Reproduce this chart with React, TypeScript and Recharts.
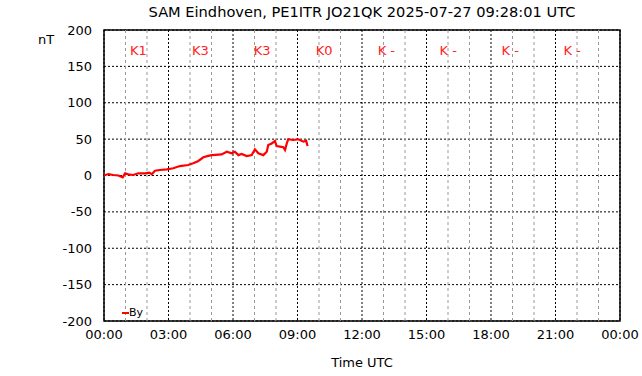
import {
  LineChart,
  Line,
  XAxis,
  YAxis,
  CartesianGrid,
  ReferenceLine,
  ReferenceArea,
  ReferenceDot,
} from "recharts";

// hours since 00:00 UTC and By in nT
const hours = [
  0, 0.2, 0.43, 0.67, 0.87, 0.98, 1.13, 1.36, 1.6, 1.91, 2.11, 2.22, 2.37, 2.6, 2.92, 3.22, 3.53,
  3.92, 4.15, 4.39, 4.62, 4.85, 5.01, 5.47, 5.71, 5.94, 6.09, 6.25, 6.4, 6.64, 6.87, 7.02, 7.18,
  7.41, 7.57, 7.64, 7.8, 7.95, 8.03, 8.19, 8.34, 8.42, 8.5, 8.57, 8.8, 9.04, 9.27, 9.4, 9.47,
];
const by = [
  0, 2, 0.7, 0, -2.5, 3, 1.6, 0.7, 3, 3, 4, 1.6, 6.6, 7.6, 8.5, 10, 13, 14.4, 16.8, 20, 25, 27, 28,
  29, 32.7, 30.5, 32.7, 28, 29.5, 26.8, 28, 36, 30.5, 28, 32.7, 42, 44, 47.4, 40.5, 39.6, 38.8, 35,
  44, 49.8, 48.8, 49.8, 46.5, 47.8, 40.5,
];

const xTicks = [0, 3, 6, 9, 12, 15, 18, 21, 24];
const minorHours = [1, 2, 4, 5, 7, 8, 10, 11, 13, 14, 16, 17, 19, 20, 22, 23];
const yTicks = [-200, -150, -100, -50, 0, 50, 100, 150, 200];

const kLabels = ["K1", "K3", "K3", "K0", "K -", "K -", "K -", "K -"];
const kPositions = [1.21, 4.09, 6.97, 9.85, 12.73, 15.61, 18.49, 21.37];
const kLevel = 172;

const title = "SAM Eindhoven, PE1ITR JO21QK 2025-07-27 09:28:01 UTC";

const data = hours.map((h, i) => ({ h, by: by[i] }));

const font = "'DejaVu Sans', sans-serif";

const fmtHour = (v: number) => `${String(v % 24).padStart(2, "0")}:00`;

export default function App() {
  return (
    <div style={{ position: "absolute", left: 0, top: 0, width: 642, height: 376, background: "#fff", fontFamily: font }}>
      <div
        style={{
          position: "absolute",
          left: 104,
          width: 516,
          top: 3,
          textAlign: "center",
          fontSize: 14.6,
          color: "#000",
        }}
      >
        {title}
      </div>
      <div style={{ position: "absolute", left: 38, top: 32, fontSize: 13 }}>nT</div>
      <LineChart width={642} height={376} data={data} margin={{ top: 30, right: 22, bottom: 0, left: 0 }}>
        <CartesianGrid stroke="#000" strokeDasharray="2 2" />
        {minorHours.map((m) => (
          <ReferenceLine key={m} x={m} stroke="#999" strokeDasharray="3 3" />
        ))}
        <XAxis
          dataKey="h"
          type="number"
          domain={[0, 24]}
          ticks={xTicks}
          tickFormatter={fmtHour}
          axisLine={false}
          tickLine={false}
          tickSize={0}
          tickMargin={9}
          height={55}
          tick={{ fill: "#000", fontSize: 13, fontFamily: font }}
          label={{ value: "Time UTC", position: "insideBottom", offset: 9, fill: "#000", fontSize: 13, fontFamily: font }}
        />
        <YAxis
          type="number"
          domain={[-200, 200]}
          ticks={yTicks}
          axisLine={false}
          tickLine={false}
          tickSize={0}
          tickMargin={12}
          width={104}
          tick={{ fill: "#000", fontSize: 13, fontFamily: font }}
        />
        <ReferenceArea x1={0} x2={24} y1={-200} y2={200} fill="none" stroke="#000" strokeWidth={1.5} />
        {kLabels.map((k, i) => (
          <ReferenceDot
            key={i}
            x={kPositions[i]}
            y={kLevel}
            r={0}
            fill="none"
            stroke="none"
            label={{ value: k, position: "right", offset: 0, fill: "#f22", fontSize: 13, fontFamily: font }}
          />
        ))}
        <Line
          dataKey="by"
          type="linear"
          stroke="#f00"
          strokeWidth={2.2}
          dot={false}
          isAnimationActive={false}
        />
      </LineChart>
      <div
        style={{
          position: "absolute",
          left: 122,
          top: 306,
          display: "flex",
          alignItems: "center",
          fontSize: 11,
        }}
      >
        <span style={{ width: 7, height: 2, background: "#f00", display: "inline-block" }} />
        <span>By</span>
      </div>
    </div>
  );
}
